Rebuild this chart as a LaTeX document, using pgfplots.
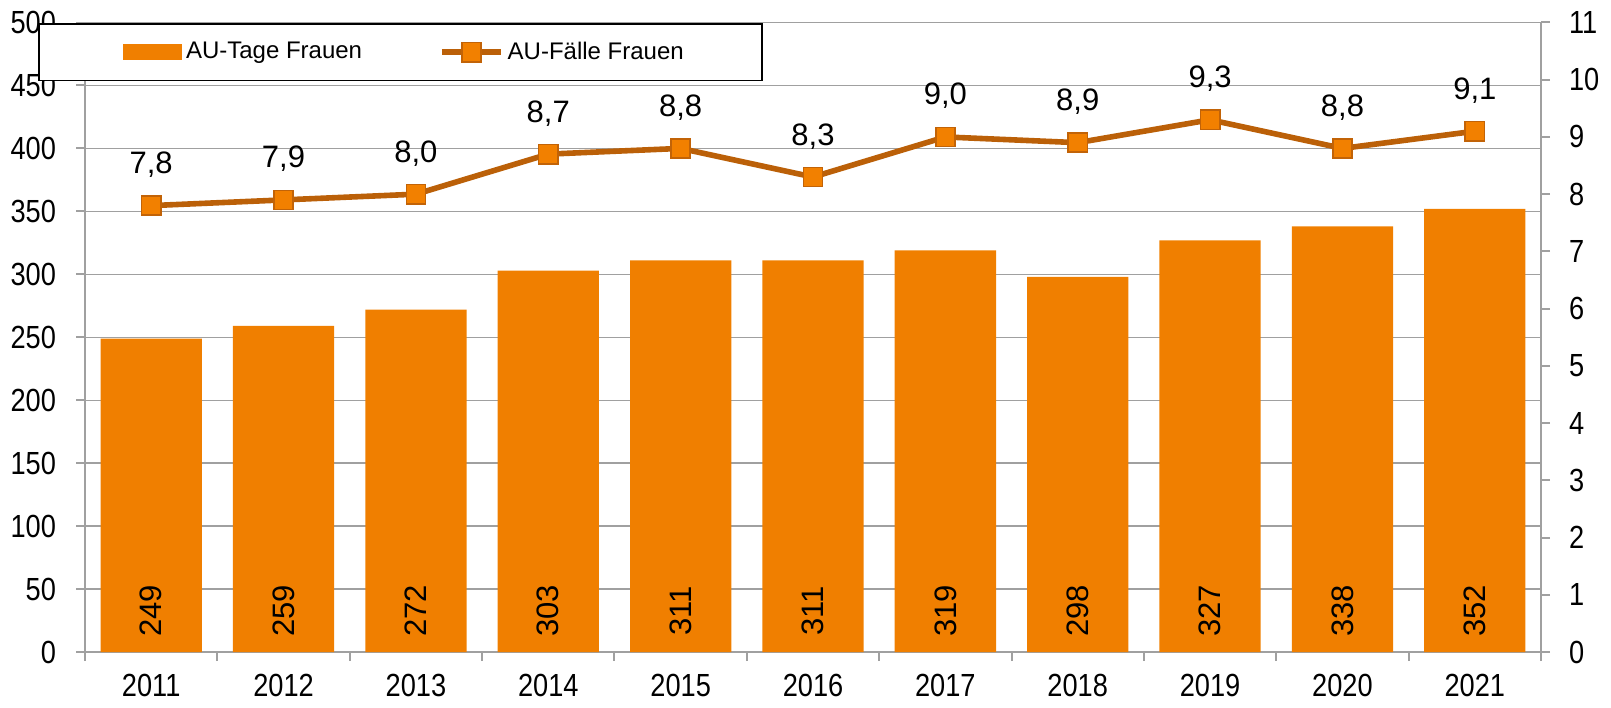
\documentclass[border=0pt]{standalone}
\usepackage{pgfplots}
\pgfplotsset{compat=1.18}
\usepackage{fontspec}
\setmainfont{Liberation Sans}
\newfontfamily\narrowfont{Liberation Sans}[FakeStretch=0.85]
\pgfplotsset{/pgf/number format/assume math mode=true}

\definecolor{barorange}{RGB}{240,127,0}
\definecolor{linebrown}{RGB}{187,96,8}
\definecolor{markorange}{RGB}{242,128,0}
\definecolor{gridgray}{RGB}{160,160,160}

\newcommand{\tickfont}{\narrowfont\fontsize{16}{19}\selectfont}
\newcommand{\lblfont}{\fontsize{15.5}{18}\selectfont}

\begin{document}
\begin{tikzpicture}
\useasboundingbox (-42.5pt,-27.5pt) rectangle (763pt,326pt);

% AU-Tage (linke Achse)
\begin{axis}[
    width=728pt, height=314.75pt, scale only axis,
    xmin=-0.5, xmax=10.5, ymin=0, ymax=500,
    axis x line*=bottom, axis y line*=left,
    axis line style={draw=gridgray, line width=1pt, -},
    xtick={0,...,10},
    xticklabels={2011,2012,2013,2014,2015,2016,2017,2018,2019,2020,2021},
    minor xtick={-0.5,0.5,...,10.5},
    ytick={0,50,...,500},
    tick align=outside,
    major tick length=4.5pt, minor tick length=4.5pt,
    tick style={draw=gridgray, line width=1pt},
    major x tick style={draw=none},
    ymajorgrids,
    grid style={draw=gridgray, line width=0.7pt},
    ticklabel style={font=\tickfont, text=black},
    xticklabel style={yshift=-3pt},
    yticklabel style={xshift=-6.5pt},
]
    \addplot[ybar, bar width=0.765, fill=barorange, draw=none,
        nodes near coords,
        visualization depends on={y \as \myy},
        every node near coord/.append style={text=black, font=\lblfont,
            anchor=center, yshift={(32.6-\myy)*0.6295pt}, rotate=90}]
    coordinates {
        (0,249) (1,259) (2,272) (3,303) (4,311) (5,311)
        (6,319) (7,298) (8,327) (9,338) (10,352)
    };
\end{axis}

% AU-Faelle (rechte Achse)
\begin{axis}[
    width=728pt, height=314.75pt, scale only axis,
    xmin=-0.5, xmax=10.5, ymin=0, ymax=11,
    axis x line=none, axis y line*=right,
    axis line style={draw=gridgray, line width=1pt, -},
    ytick={0,...,11},
    tick align=outside,
    major tick length=4.5pt,
    tick style={draw=gridgray, line width=1pt},
    ticklabel style={font=\tickfont, text=black},
    yticklabel style={xshift=6pt},
    legend image code/.code={
        \draw[mark repeat=2, mark phase=2, #1]
        plot coordinates {(0pt,0pt) (14.75pt,0pt) (29.5pt,0pt)};},
    legend columns=2,
    legend cell align=left,
    legend style={at={(rel axis cs:-0.032,0.999)}, anchor=north west,
        draw=black, line width=0.8pt, fill=white,
        font=\fontsize{12}{14}\selectfont,
        inner xsep=37pt, inner ysep=7pt,
        /tikz/every even column/.append style={column sep=36.5pt}},
]
    \addlegendimage{legend image code/.code={
        \path[draw=none, fill=none] (-5.5pt,0pt) -- (0pt,0pt);
        \fill[barorange] (0pt,-3.5pt) rectangle (28.5pt,3.5pt);}}
    \addlegendentry{AU-Tage Frauen}
    \addplot[linebrown, line width=2.8pt,
        mark=square*, mark size=4.8pt,
        mark options={fill=markorange, draw=linebrown!90!orange, line width=0.8pt},
        nodes near coords={\pgfmathprintnumber[fixed, fixed zerofill, precision=1, use comma]{\pgfplotspointmeta}},
        every node near coord/.append style={text=black, font=\lblfont,
            anchor=base, yshift=16pt}]
    coordinates {
        (0,7.8) (1,7.9) (2,8.0) (3,8.7) (4,8.8) (5,8.3)
        (6,9.0) (7,8.9) (8,9.3) (9,8.8) (10,9.1)
    };
    \addlegendentry{AU-Fälle Frauen}
\end{axis}
\end{tikzpicture}
\end{document}
